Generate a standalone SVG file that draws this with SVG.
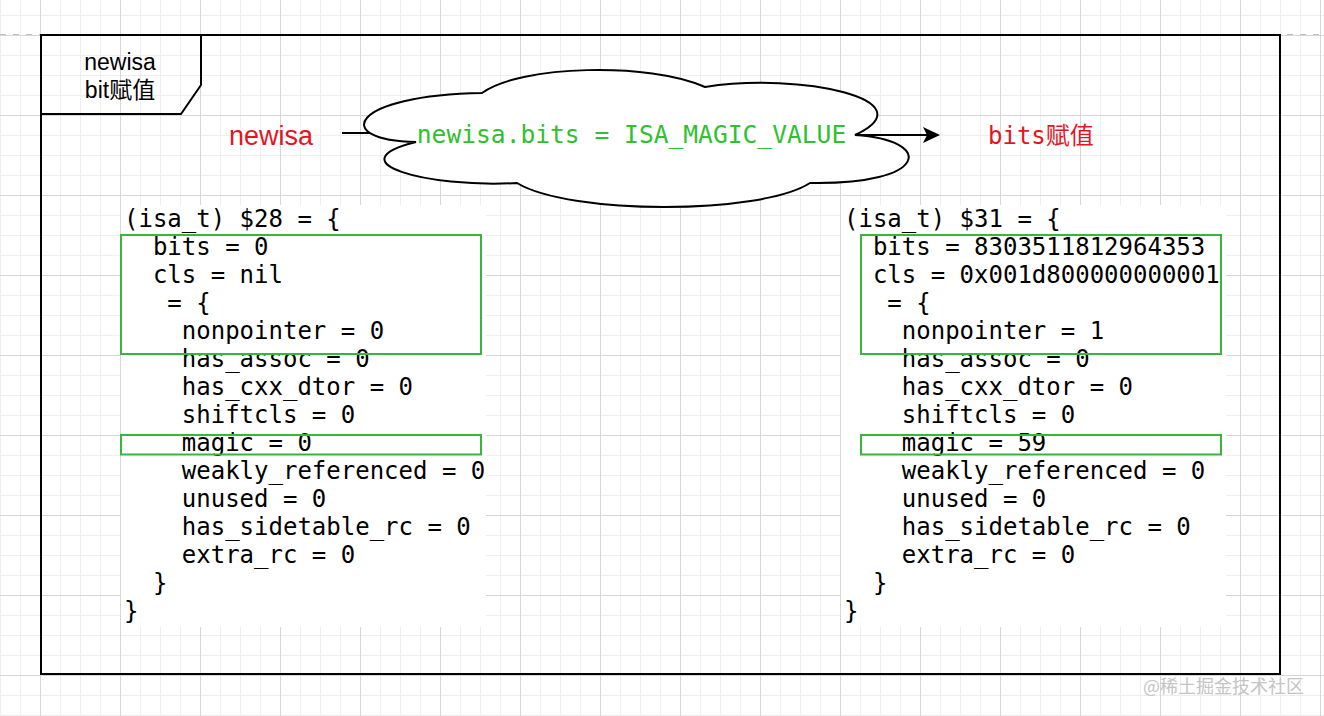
<svg xmlns="http://www.w3.org/2000/svg" width="1324" height="716" viewBox="0 0 1324 716">
<style>
.code{font-family:"DejaVu Sans Mono","Liberation Mono",monospace;font-size:24px;fill:#000}
.hl{fill:none;stroke:#39b539;stroke-width:2}
.lbl{font-family:"Liberation Sans","Noto Sans CJK SC",sans-serif;font-size:23px;fill:#000;text-anchor:middle}
.red{fill:#e3161f}
.conn{stroke:#000;stroke-width:2;fill:none}
</style>
<defs>
<pattern id="gmin" width="20" height="20" x="0" y="15" patternUnits="userSpaceOnUse">
<path d="M0.5 0V20M0 0.5H20" stroke="#eeeeee" stroke-width="1" fill="none"/>
</pattern>
<pattern id="gmaj" width="80" height="80" x="40" y="35" patternUnits="userSpaceOnUse">
<path d="M0.5 0V80M0 0.5H80" stroke="#d6d6d6" stroke-width="1" fill="none"/>
</pattern>
<marker id="arr" markerUnits="userSpaceOnUse" viewBox="0 0 17 16" markerWidth="17" markerHeight="16" refX="7" refY="8" orient="auto">
<path d="M0 0L17 8L0 16L4 8Z" fill="#000"/>
</marker>
</defs>
<rect width="1324" height="716" fill="#fff"/>
<rect width="1324" height="716" fill="url(#gmin)"/>
<rect width="1324" height="716" fill="url(#gmaj)"/>
<line x1="0" y1="34.5" x2="1324" y2="34.5" stroke="#bdbdbd" stroke-width="1" stroke-dasharray="6 7"/>

<g id="frame">
<rect x="41" y="35" width="1239" height="639" fill="none" stroke="#000" stroke-width="2"/>
<path d="M41 35H201V85L181 114H41Z" fill="none" stroke="#000" stroke-width="2"/>
<text class="lbl" x="120" y="70">newisa</text>
<text class="lbl" x="120" y="98">bit赋值</text>
</g>

<g id="connectors">
<line class="conn" x1="342" y1="133" x2="400" y2="133"/>
<line class="conn" x1="845" y1="135" x2="930" y2="135" marker-end="url(#arr)"/>
</g>

<g id="label-newisa">
<text x="229" y="145" font-family="Liberation Sans, sans-serif" font-size="27" class="red">newisa</text>
</g>

<g id="cloud">
<path d="M416 142C330 140 350 95 482 93C520 65 650 62 705 87C800 72 930 100 855 135C935 140 930 185 810 183C760 215 570 215 517 183C425 188 335 162 416 142Z" fill="#fff" stroke="#000" stroke-width="2"/>
<text x="631.5" y="143" text-anchor="middle" font-family="DejaVu Sans Mono, monospace" font-size="24.6" fill="#2fc12f">newisa.bits = ISA_MAGIC_VALUE</text>
</g>

<g id="label-bits">
<text x="988" y="144" font-family="DejaVu Sans Mono, Noto Sans CJK SC, monospace" font-size="24" class="red">bits赋值</text>
</g>

<g id="code-before">
<rect x="121" y="205" width="365" height="422" fill="#fff"/>
<text class="code">
<tspan x="124" y="227">(isa_t) $28 = {</tspan>
<tspan x="152.9" y="255">bits = 0</tspan>
<tspan x="152.9" y="283">cls = nil</tspan>
<tspan x="167.35" y="311">= {</tspan>
<tspan x="181.8" y="339">nonpointer = 0</tspan>
<tspan x="181.8" y="367">has_assoc = 0</tspan>
<tspan x="181.8" y="395">has_cxx_dtor = 0</tspan>
<tspan x="181.8" y="423">shiftcls = 0</tspan>
<tspan x="181.8" y="451">magic = 0</tspan>
<tspan x="181.8" y="479">weakly_referenced = 0</tspan>
<tspan x="181.8" y="507">unused = 0</tspan>
<tspan x="181.8" y="535">has_sidetable_rc = 0</tspan>
<tspan x="181.8" y="563">extra_rc = 0</tspan>
<tspan x="152.9" y="591">}</tspan>
<tspan x="124" y="619">}</tspan>
</text>
<rect class="hl" x="121" y="235" width="360" height="119"/>
<rect class="hl" x="121" y="435" width="360" height="19.5"/>
</g>

<g id="code-after">
<rect x="841" y="205" width="385" height="422" fill="#fff"/>
<text class="code">
<tspan x="844" y="227">(isa_t) $31 = {</tspan>
<tspan x="872.9" y="255">bits = 8303511812964353</tspan>
<tspan x="872.9" y="283">cls = 0x001d800000000001</tspan>
<tspan x="887.35" y="311">= {</tspan>
<tspan x="901.8" y="339">nonpointer = 1</tspan>
<tspan x="901.8" y="367">has_assoc = 0</tspan>
<tspan x="901.8" y="395">has_cxx_dtor = 0</tspan>
<tspan x="901.8" y="423">shiftcls = 0</tspan>
<tspan x="901.8" y="451">magic = 59</tspan>
<tspan x="901.8" y="479">weakly_referenced = 0</tspan>
<tspan x="901.8" y="507">unused = 0</tspan>
<tspan x="901.8" y="535">has_sidetable_rc = 0</tspan>
<tspan x="901.8" y="563">extra_rc = 0</tspan>
<tspan x="872.9" y="591">}</tspan>
<tspan x="844" y="619">}</tspan>
</text>
<rect class="hl" x="861" y="235" width="360" height="119"/>
<rect class="hl" x="861" y="435" width="360" height="19.5"/>
</g>

<text x="1143" y="693" font-family="Noto Sans CJK SC, sans-serif" font-size="18" fill="#c4c4c4">@稀土掘金技术社区</text>
</svg>
